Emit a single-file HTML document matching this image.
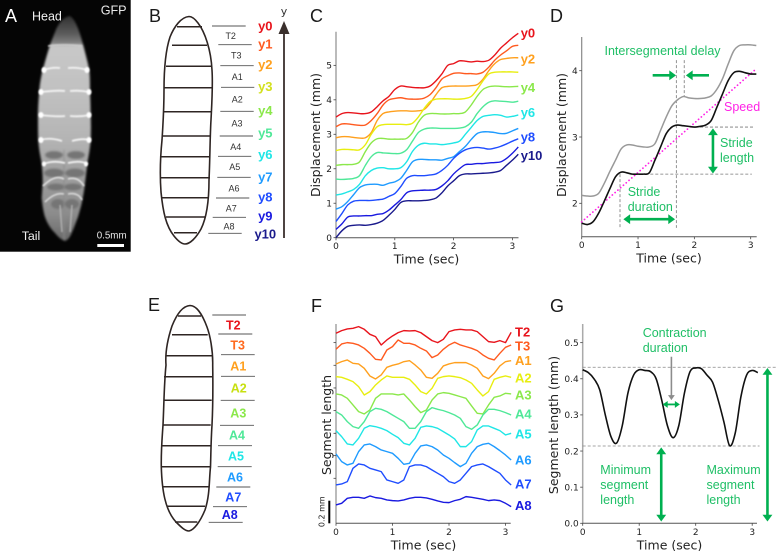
<!DOCTYPE html>
<html lang="en">
<head>
<meta charset="utf-8">
<title>Larval crawling kinematics figure</title>
<style>
html,body{margin:0;padding:0;background:#fff;}
body{width:777px;height:551px;overflow:hidden;}
svg{display:block;}
text{font-family:"Liberation Sans",sans-serif;}
.dj{font-family:"DejaVu Sans",sans-serif;}
.letter{font-size:18px;fill:#1a1a1a;}
.tick{font-family:"DejaVu Sans",sans-serif;font-size:9px;fill:#222;}
.axt{font-family:"DejaVu Sans",sans-serif;font-size:12.5px;fill:#222;}
.seg{font-size:9px;fill:#333;text-anchor:middle;}
.bold{font-weight:bold;}
.ann{font-size:12.5px;fill:#1fbf66;}
</style>
</head>
<body>
<svg id="fig" xmlns="http://www.w3.org/2000/svg" width="777" height="551" viewBox="0 0 777 551">
<defs>
<filter id="bl1" x="-20%" y="-20%" width="140%" height="140%"><feGaussianBlur stdDeviation="1.1"/></filter>
<filter id="bl2" x="-20%" y="-20%" width="140%" height="140%"><feGaussianBlur stdDeviation="0.7"/></filter>
<linearGradient id="bodyGrad" x1="0" y1="0" x2="0" y2="1">
<stop offset="0" stop-color="#303030"/><stop offset="0.08" stop-color="#5c5c5c"/><stop offset="0.12" stop-color="#808080"/><stop offset="0.135" stop-color="#c8c8c8"/><stop offset="0.35" stop-color="#c0c0c0"/><stop offset="0.55" stop-color="#b4b4b4"/><stop offset="0.7" stop-color="#a0a0a0"/><stop offset="0.88" stop-color="#8c8c8c"/><stop offset="1" stop-color="#686868"/>
</linearGradient>
</defs>

<!-- Panel A -->
<g>
<rect x="0" y="0" width="130.7" height="251.7" fill="#050505"/>
<g filter="url(#bl1)">
<path d="M70 16 C63 17 58 24 55 32 L50.7 43 C47 54 45 62 42.7 70 C40.5 79 39.5 86 39.3 92 C38.3 102 38 110 38 117 C38 125 38 133 38.3 140 C39 150 40.5 157 41.7 163 C42.5 172 42.7 178 42.7 183 L41.7 198 C42.5 206 43.5 212 45 217 C48 225 51 229 55 233 C59 238 62 240 65 241 C68 240 70 237 71.7 233 C74 228 76 222 78 217 C80 210 81.5 205 82.7 198 C84 192 84.5 187 85 183 C86 175 86.7 169 87.3 163 C89 155 90 148 90.7 140 C91 130 91 123 90.7 117 C90.6 107 90.3 100 90 92 C90 84 90 78 89.3 70 C87.5 61 85 52 82.7 43 C80 33 76 20 70 16Z" fill="url(#bodyGrad)"/>
<g fill="#757575">
<ellipse cx="54" cy="155" rx="9" ry="4"/><ellipse cx="76" cy="155" rx="9" ry="4"/>
<ellipse cx="54" cy="173" rx="10" ry="4.5"/><ellipse cx="75" cy="173" rx="10" ry="4.5"/>
<ellipse cx="56" cy="187" rx="9" ry="3.5"/><ellipse cx="73" cy="187" rx="9" ry="3.5"/>
<ellipse cx="58" cy="204" rx="7" ry="5"/><ellipse cx="72" cy="204" rx="7" ry="5"/>
</g>
<path d="M64 150 L64 240" stroke="#8a8a8a" stroke-width="1" fill="none"/>
</g>
<g filter="url(#bl2)" fill="none" stroke="#f4f4f4" stroke-width="1.4">
<path d="M48 46 Q64 44 82 46" stroke="#cfcfcf"/>
<path d="M44 70 Q52 67 60 68 M68 68 Q78 67 87 70" stroke-width="1.8"/>
<path d="M41 92 Q58 90 65 91 M70 91 Q80 90 89 92" stroke-width="1.8"/>
<path d="M40 115 Q58 117 65 116 M70 116 Q80 117 90 115" stroke-width="1.8"/>
<path d="M40 140 Q50 137 62 141 M72 141 Q82 138 90 140" stroke-width="1.8"/>
<path d="M43 164 Q54 160 65 163 M68 163 Q80 160 88 164" stroke-width="1.8"/>
<path d="M43 186 Q55 174 64 179 M68 179 Q78 176 84 186" stroke-width="1.6" stroke="#e0e0e0"/>
<path d="M45 202 Q55 192 64 194 M68 194 Q78 192 82 200" stroke-width="1.6" stroke="#d8d8d8"/>
<path d="M60 205 L62 232 M72 205 L70 232" stroke="#b4b4b4"/>
<g fill="#ffffff" stroke="none">
<ellipse cx="44" cy="70" rx="2.5" ry="3"/><ellipse cx="87" cy="70" rx="2.5" ry="3"/>
<ellipse cx="41" cy="92" rx="2.5" ry="3"/><ellipse cx="89" cy="92" rx="2.5" ry="3"/>
<ellipse cx="41" cy="115" rx="2.5" ry="3"/><ellipse cx="89" cy="115" rx="2.5" ry="3"/>
<ellipse cx="41" cy="140" rx="2.5" ry="3"/><ellipse cx="89" cy="140" rx="2.5" ry="3"/>
<ellipse cx="44" cy="164" rx="2" ry="2.5"/><ellipse cx="86" cy="164" rx="2" ry="2.5"/>
</g>
</g>
<text x="5" y="22" font-size="18" fill="#fff">A</text>
<text x="32" y="20.7" font-size="12.5" fill="#f2f2f2">Head</text>
<text x="100.7" y="14.3" font-size="12.6" fill="#e8e8e8">GFP</text>
<text x="21.7" y="240" font-size="12.4" fill="#f2f2f2">Tail</text>
<text x="96.7" y="238.7" font-size="9.8" fill="#e8e8e8">0.5mm</text>
<rect x="97.3" y="244" width="26.7" height="3" fill="#fff"/>
</g>

<!-- Panel B -->
<g>
<text class="letter" x="149" y="22">B</text>
<path d="M189 16.5 C181 17 174 27 170 37 C165 52 164 75 164 90 C164 105 163 125 162 140 C160 160 160 178 161 192 C163 212 166 226 174 236 C178 241 182 244 185 244 C190 244 196 238 201 229 C207 217 209 200 209 180 C210 160 210 135 211 120 C212 100 213 85 212 70 C211 50 205 32 198 23 C195 19 192 16.5 189 16.5Z" fill="none" stroke="#2e2523" stroke-width="1.6"/>
<g stroke="#2e2523" stroke-width="1.5">
<line x1="177" y1="26.7" x2="202" y2="26.7"/><line x1="172" y1="45.3" x2="207" y2="45.3"/><line x1="166" y1="66.3" x2="211" y2="66.3"/><line x1="164" y1="87.7" x2="212" y2="87.7"/><line x1="164" y1="111.7" x2="211" y2="111.7"/><line x1="162" y1="136" x2="210" y2="136"/><line x1="161" y1="156.7" x2="210" y2="156.7"/><line x1="161" y1="177.7" x2="210" y2="177.7"/><line x1="162" y1="197.7" x2="209" y2="197.7"/><line x1="166" y1="217" x2="206" y2="217"/><line x1="174" y1="232.7" x2="197" y2="232.7"/>
</g>
<g stroke="#555" stroke-width="0.9">
<line x1="212" y1="26" x2="245.7" y2="26"/><line x1="218.3" y1="44.7" x2="251.7" y2="44.7"/><line x1="220.3" y1="65.7" x2="253.7" y2="65.7"/><line x1="221" y1="87.3" x2="254.3" y2="87.3"/><line x1="220.3" y1="111.3" x2="253.7" y2="111.3"/><line x1="219.7" y1="136" x2="253" y2="136"/><line x1="218" y1="156.3" x2="251.3" y2="156.3"/><line x1="217.3" y1="177.3" x2="250.7" y2="177.3"/><line x1="216" y1="198" x2="249.3" y2="198"/><line x1="212.7" y1="217.3" x2="246" y2="217.3"/><line x1="208.3" y1="233.3" x2="241.7" y2="233.3"/>
</g>
<text class="seg" x="230.7" y="39">T2</text>
<text class="seg" x="236.3" y="58.7">T3</text>
<text class="seg" x="237.3" y="80">A1</text>
<text class="seg" x="237.3" y="102.3">A2</text>
<text class="seg" x="237" y="126.3">A3</text>
<text class="seg" x="235.7" y="150">A4</text>
<text class="seg" x="234.7" y="170">A5</text>
<text class="seg" x="234" y="191.3">A6</text>
<text class="seg" x="231.3" y="211.3">A7</text>
<text class="seg" x="229" y="229.7">A8</text>
<g font-size="13" text-anchor="middle" font-weight="bold">
<text x="265.3" y="30.5" fill="#e8141c">y0</text>
<text x="265.3" y="48.5" fill="#ff5a1f">y1</text>
<text x="265.3" y="69" fill="#ffa01e">y2</text>
<text x="265.3" y="91" fill="#d3e01e">y3</text>
<text x="265.3" y="115" fill="#8be84b">y4</text>
<text x="265.3" y="137.5" fill="#4fe898">y5</text>
<text x="265.3" y="159" fill="#1fe6e6">y6</text>
<text x="265.3" y="181.5" fill="#1f9bff">y7</text>
<text x="265.3" y="201.5" fill="#1f4dff">y8</text>
<text x="265.3" y="220.5" fill="#1a1ae0">y9</text>
<text x="265.3" y="238.5" fill="#1a1a8c">y10</text>
</g>
<line x1="284" y1="238" x2="284" y2="30" stroke="#3a2f2c" stroke-width="1.8"/>
<polygon points="284,21 278.5,34 289.5,34" fill="#3a2f2c"/>
<text x="284" y="15" font-size="11" text-anchor="middle" fill="#333" class="dj">y</text>
</g>

<!-- Panel E -->
<g>
<text class="letter" x="148" y="311">E</text>
<path d="M190 305.5 C182 306 176 316 172 326 C168 338 165 352 166 365 C164 385 164 405 163 425 C162 440 161 450 161.3 467 C162 490 165 510 176 522 C181 527 185 531 189 531 C194 530 200 522 205 510 C210 495 209 480 210.5 467 C211 450 211 440 212 425 C213 405 213 385 212.7 365 C213 350 210 335 207 327 C203 316 197 305.5 190 305.5Z" fill="none" stroke="#2e2523" stroke-width="1.6"/>
<g stroke="#2e2523" stroke-width="1.5">
<line x1="178" y1="316" x2="201" y2="316"/><line x1="172" y1="334.7" x2="207.7" y2="334.7"/><line x1="166" y1="355.7" x2="212" y2="355.7"/><line x1="164" y1="376.7" x2="212.7" y2="376.7"/><line x1="164" y1="400.3" x2="211.7" y2="400.3"/><line x1="163.3" y1="425" x2="210.7" y2="425"/><line x1="161.7" y1="445.7" x2="210.7" y2="445.7"/><line x1="161.3" y1="466.7" x2="210.7" y2="466.7"/><line x1="163.3" y1="486.7" x2="209.3" y2="486.7"/><line x1="167" y1="506.3" x2="205" y2="506.3"/><line x1="175" y1="522" x2="197.3" y2="522"/>
</g>
<g stroke="#555" stroke-width="0.9">
<line x1="212.3" y1="315" x2="246" y2="315"/><line x1="218.3" y1="334" x2="252.3" y2="334"/><line x1="221" y1="354.7" x2="254.7" y2="354.7"/><line x1="221" y1="376.3" x2="255" y2="376.3"/><line x1="220.7" y1="400.3" x2="254.7" y2="400.3"/><line x1="220" y1="425.3" x2="254" y2="425.3"/><line x1="218" y1="445.7" x2="252" y2="445.7"/><line x1="217.7" y1="466.7" x2="251.7" y2="466.7"/><line x1="216.3" y1="487" x2="250.3" y2="487"/><line x1="213" y1="506.7" x2="247" y2="506.7"/><line x1="208.7" y1="522.3" x2="242.7" y2="522.3"/>
</g>
<g font-size="12.5" font-weight="bold" text-anchor="middle">
<text x="233.3" y="329.3" fill="#e8141c">T2</text>
<text x="237.7" y="349.3" fill="#ff6a1f">T3</text>
<text x="238.3" y="370.3" fill="#ffa01e">A1</text>
<text x="238.7" y="392.7" fill="#c8e010">A2</text>
<text x="238.3" y="417.3" fill="#8be84b">A3</text>
<text x="237" y="439.7" fill="#4fe898">A4</text>
<text x="236" y="460.3" fill="#1fe6e6">A5</text>
<text x="235" y="481.3" fill="#1f9bff">A6</text>
<text x="233.3" y="501.7" fill="#1f4dff">A7</text>
<text x="229.7" y="519" fill="#1a1ae0">A8</text>
</g>
</g>

<text class="letter" x="310" y="22">C</text>
<text class="letter" x="550" y="22">D</text>
<text class="letter" x="311" y="312">F</text>
<text class="letter" x="550" y="312">G</text>

<g id="panelC"></g>
<g id="panelD"></g>
<g id="panelF"></g>
<g id="panelG"></g>
</svg>

<script>
// ---- shared time base: one sample every 0.1 s ----
const sampleStep = 0.1;
const xTickLabels = [0, 1, 2, 3];

// ---- Panel C ----
const cSeriesNames = ['y0','y1','y2','y3','y4','y5','y6','y7','y8','y9','y10'];
const cColors = ['#e8141c','#ff5a1f','#ffa01e','#e8ee10','#8be84b','#4fe898','#1fe6e6','#1f9bff','#1f4dff','#1a1ae0','#1a1a8c'];
const y0Values = [3.5,3.6,3.63,3.62,3.6,3.6,3.65,3.8,3.97,4.1,4.3,4.4,4.38,4.36,4.35,4.35,4.4,4.55,4.75,5.0,5.05,5.13,5.12,5.1,5.12,5.11,5.15,5.3,5.5,5.65,5.8,5.93];
const y1Values = [3.22,3.3,3.3,3.28,3.26,3.27,3.4,3.6,3.85,4.0,4.04,4.06,4.03,4.02,4.02,4.05,4.15,4.35,4.6,4.7,4.77,4.78,4.76,4.76,4.75,4.8,4.95,5.15,5.3,5.42,5.55,5.58];
const y2Values = [2.9,2.93,2.93,2.91,2.89,2.9,3.05,3.4,3.6,3.65,3.67,3.68,3.68,3.67,3.68,3.72,3.9,4.15,4.35,4.39,4.4,4.4,4.4,4.41,4.44,4.6,4.85,5.05,5.17,5.2,5.22,5.22];
const y3Values = [2.53,2.56,2.56,2.55,2.55,2.7,3.0,3.22,3.28,3.29,3.29,3.29,3.28,3.32,3.5,3.75,3.95,4.02,4.03,4.03,4.02,4.02,4.04,4.1,4.3,4.55,4.75,4.8,4.81,4.81,4.81,4.8];
const y4Values = [2.1,2.12,2.12,2.13,2.2,2.5,2.75,2.87,2.88,2.86,2.86,2.86,2.88,3.05,3.35,3.55,3.6,3.6,3.59,3.59,3.6,3.6,3.65,3.85,4.1,4.3,4.38,4.4,4.39,4.38,4.38,4.39];
const y5Values = [1.7,1.69,1.7,1.72,1.8,2.1,2.35,2.47,2.46,2.45,2.44,2.45,2.55,2.8,3.05,3.15,3.18,3.18,3.17,3.17,3.17,3.18,3.22,3.35,3.6,3.8,3.93,3.97,3.96,3.95,3.93,3.96];
const y6Values = [1.24,1.27,1.33,1.4,1.55,1.8,1.95,2.02,2.03,2.0,2.0,2.03,2.2,2.5,2.68,2.74,2.72,2.72,2.7,2.72,2.75,2.8,3.0,3.2,3.4,3.52,3.55,3.57,3.55,3.5,3.52,3.56];
const y7Values = [0.83,0.9,1.05,1.25,1.45,1.53,1.55,1.55,1.52,1.58,1.62,1.72,1.95,2.2,2.27,2.27,2.26,2.26,2.25,2.3,2.35,2.5,2.65,2.85,3.02,3.07,3.07,3.05,3.02,3.03,3.1,3.17];
const y8Values = [0.47,0.7,0.95,1.06,1.08,1.08,1.08,1.1,1.12,1.2,1.28,1.48,1.72,1.8,1.8,1.8,1.82,1.85,1.95,2.1,2.3,2.45,2.55,2.6,2.62,2.6,2.57,2.6,2.65,2.72,2.8,2.87];
const y9Values = [0.24,0.4,0.6,0.63,0.63,0.64,0.64,0.68,0.7,0.8,0.95,1.1,1.3,1.36,1.37,1.38,1.38,1.4,1.5,1.65,1.85,2.0,2.12,2.13,2.15,2.15,2.17,2.18,2.2,2.3,2.45,2.63];
const y10Values = [0,0.2,0.33,0.36,0.37,0.36,0.38,0.42,0.5,0.65,0.82,1.02,1.07,1.07,1.07,1.08,1.1,1.15,1.3,1.5,1.65,1.8,1.85,1.85,1.86,1.87,1.88,1.9,1.95,2.1,2.25,2.42];
const cYTicks = [0, 1, 2, 3, 4, 5];
const cEndLabels = ['y0','y2','y4','y6','y8','y10'];

// ---- Panel D ----
const dGreyValues = [2.12,2.11,2.11,2.15,2.3,2.48,2.65,2.82,2.88,2.88,2.86,2.85,2.85,2.9,3.1,3.3,3.47,3.56,3.61,3.59,3.58,3.58,3.59,3.62,3.72,3.88,4.1,4.3,4.38,4.39,4.39,4.38];
const dBlackValues = [1.7,1.68,1.72,1.85,2.03,2.22,2.4,2.47,2.46,2.44,2.44,2.44,2.46,2.65,2.85,3.05,3.15,3.18,3.17,3.16,3.15,3.16,3.18,3.25,3.45,3.65,3.85,3.97,3.99,3.97,3.95,3.95];
const dSpeedTimes = [0, 3.1];
const dSpeedValues = [1.72, 4.03];
const dYTicks = [2, 3, 4];

// ---- Panel F (stacked traces in arbitrary offset length units) ----
const fSeriesNames = ['T2','T3','A1','A2','A3','A4','A5','A6','A7','A8'];
const fColors = ['#e8141c','#ff5a1f','#ffa01e','#e8ee10','#8be84b','#4fe898','#1fe6e6','#1f9bff','#1f4dff','#1a1ae0'];
const t2Trace = [570,578,583,585,590,582,567,560,535,550,562,572,578,577,578,572,560,548,542,552,575,580,582,580,580,575,560,545,543,548,542,573];
const t3Trace = [522,538,542,540,535,525,510,492,490,520,530,550,540,540,535,525,517,497,505,522,535,543,535,530,525,518,505,495,490,510,528,535];
const a1Trace = [478,485,490,480,478,465,442,433,445,468,474,478,485,488,475,460,438,435,450,472,478,482,482,482,475,465,442,434,450,472,485,488];
const a2Trace = [440,438,432,425,410,385,395,415,430,442,438,438,438,432,415,395,388,405,435,440,442,440,437,430,420,400,382,395,432,438,442,438];
const a3Trace = [388,385,375,355,335,328,340,375,388,388,388,385,388,370,350,332,340,370,388,392,390,385,380,375,352,330,328,355,378,382,390,388];
const a4Trace = [335,325,305,290,285,305,335,345,342,335,325,315,305,285,285,305,335,347,342,338,332,325,315,290,282,295,325,342,342,338,332,325];
const a5Trace = [278,260,238,235,255,285,293,290,285,278,267,257,240,235,255,288,292,290,285,275,265,253,230,230,245,280,292,292,285,278,265,270];
const a6Trace = [208,185,175,180,215,235,238,230,220,215,210,195,177,180,210,232,235,230,220,205,195,182,170,180,210,230,237,240,230,218,205,190];
const a7Trace = [115,118,125,165,178,175,165,160,155,130,125,120,130,170,175,175,170,160,150,140,125,120,130,150,170,175,178,170,160,150,130,115];
const a8Trace = [55,60,75,78,78,75,82,77,75,70,68,67,70,75,78,78,76,72,67,63,62,68,72,80,78,75,72,68,70,68,60,50];
const fYTickValues = [542, 474, 406, 338, 270, 203, 135];

// ---- Panel G ----
const gLengthValues = [0.425,0.417,0.40,0.37,0.30,0.24,0.222,0.27,0.36,0.41,0.425,0.423,0.42,0.40,0.34,0.27,0.237,0.27,0.36,0.42,0.43,0.428,0.41,0.39,0.34,0.28,0.215,0.25,0.35,0.41,0.423,0.417];
const gYTicks = [0, 0.1, 0.2, 0.3, 0.4, 0.5];
const gMaxLength = 0.432;
const gMinLength = 0.214;

const NS = 'http://www.w3.org/2000/svg';
function mk(parent, tag, attrs) {
  const el = document.createElementNS(NS, tag);
  for (const k in attrs) el.setAttribute(k, attrs[k]);
  parent.appendChild(el);
  return el;
}
function line(parent, name, x1, y1, x2, y2, stroke, width, dash) {
  const el = mk(parent, 'line', {x1: x1, y1: y1, x2: x2, y2: y2, stroke: stroke, 'stroke-width': width});
  if (dash) el.setAttribute('stroke-dasharray', dash);
  
  
  return el;
}
function label(parent, name, x, y, str, cls, extra) {
  const el = mk(parent, 'text', Object.assign({x: x, y: y, class: cls || ''}, extra || {}));
  el.textContent = str;
  
  
  return el;
}
function smoothPath(values, xf, yf) {
  const p = values.map((v, i) => [xf(i * sampleStep), yf(v)]);
  let d = 'M' + p[0][0].toFixed(2) + ' ' + p[0][1].toFixed(2);
  for (let i = 0; i < p.length - 1; i++) {
    const a = p[Math.max(0, i - 1)], b = p[i], c = p[i + 1], e = p[Math.min(p.length - 1, i + 2)];
    d += 'C' + (b[0] + (c[0] - a[0]) / 6).toFixed(2) + ' ' + (b[1] + (c[1] - a[1]) / 6).toFixed(2) + ' ' +
         (c[0] - (e[0] - b[0]) / 6).toFixed(2) + ' ' + (c[1] - (e[1] - b[1]) / 6).toFixed(2) + ' ' +
         c[0].toFixed(2) + ' ' + c[1].toFixed(2);
  }
  return d;
}
function linePath(values, xf, yf) {
  return values.map((v, i) => (i ? 'L' : 'M') + xf(i * sampleStep).toFixed(2) + ' ' + yf(v).toFixed(2)).join('');
}
function trace(parent, name, d, color, width, dash) {
  const el = mk(parent, 'path', {d: d, fill: 'none', stroke: color, 'stroke-width': width, 'stroke-linejoin': 'round'});
  if (dash) {
    el.setAttribute('stroke-dasharray', dash);
    el.setAttribute('stroke-linecap', 'round');
  }
  
  
  return el;
}
function arrow(parent, name, x1, y1, x2, y2, color, both, w) {
  const g = mk(parent, 'g', {});
  
  
  const dx = x2 - x1, dy = y2 - y1, len = Math.hypot(dx, dy), ux = dx / len, uy = dy / len;
  const hl = Math.max(w * 2.6, 5), hw = Math.max(w * 1.9, 3.4);
  const sx = both ? x1 + ux * hl * 0.7 : x1, sy = both ? y1 + uy * hl * 0.7 : y1;
  mk(g, 'line', {x1: sx, y1: sy, x2: x2 - ux * hl * 0.7, y2: y2 - uy * hl * 0.7, stroke: color, 'stroke-width': w});
  const head = (tx, ty, vx, vy) => {
    const pts = [[tx, ty], [tx - vx * hl - vy * hw, ty - vy * hl + vx * hw], [tx - vx * hl + vy * hw, ty - vy * hl - vx * hw]];
    mk(g, 'polygon', {points: pts.map(q => q[0].toFixed(2) + ',' + q[1].toFixed(2)).join(' '), fill: color});
  };
  head(x2, y2, ux, uy);
  if (both) head(x1, y1, -ux, -uy);
}
function axes(parent, o) {
  line(parent, 'y-axis-line', o.x0, o.top, o.x0, o.bottom, o.spine, o.spineW || 1);
  line(parent, 'x-axis-line', o.x0, o.bottom, o.right, o.bottom, '#555', 1);
  xTickLabels.forEach(t => {
    const x = o.xf(t);
    line(parent, 'x-tick-' + t, x, o.bottom, x, o.bottom + 2.5, '#444', 0.8);
    label(parent, 'x-tick-label-' + t, x, o.bottom + 11.5, String(t), 'tick', {'text-anchor': 'middle'});
  });
  (o.yTicks || []).forEach(v => {
    const y = o.yf(v);
    line(parent, 'y-tick-' + v, o.x0 - 2.5, y, o.x0, y, '#444', 0.8);
    if (o.labelY) label(parent, 'y-tick-label-' + v, o.x0 - 4, y + 3.3, o.fmt ? o.fmt(v) : String(v), 'tick', {'text-anchor': 'end'});
  });
  label(parent, 'x-axis-title', o.xTitleX, o.bottom + 26, 'Time (sec)', 'axt', {'text-anchor': 'middle'});
  label(parent, 'y-axis-title', 0, 0, o.yTitle, 'axt', {'text-anchor': 'middle', transform: 'translate(' + o.yTitleX + ' ' + o.yTitleY + ') rotate(-90)'});
}

// ---- Panel C draw ----
(function () {
  const g = document.getElementById('panelC');
  const xf = t => 336 + 58.8 * t;
  const yf = v => 237.7 - 34.47 * v;
  axes(g, {x0: 336, top: 31.7, bottom: 237.7, right: 518.5, spine: '#777', xf: xf, yf: yf, yTicks: cYTicks, labelY: true, xTitleX: 426.5, yTitle: 'Displacement (mm)', yTitleX: 320, yTitleY: 135});
  const cAll = [y0Values, y1Values, y2Values, y3Values, y4Values, y5Values, y6Values, y7Values, y8Values, y9Values, y10Values];
  cAll.forEach((vals, i) => {
    trace(g, 'series-' + cSeriesNames[i], smoothPath(vals, xf, yf), cColors[i], 1.4);
  });
  const cLabelNudge = {y0: 4, y2: 5.6, y4: 5.6, y6: 2, y8: 2.5, y10: 5.7};
  cEndLabels.forEach(name => {
    const i = cSeriesNames.indexOf(name);
    label(g, 'end-label-' + name, 520.7, yf(cAll[i][31]) + cLabelNudge[name], name, 'bold', {'font-size': 13, 'font-weight': 'bold', fill: cColors[i]});
  });
})();

// ---- Panel D draw ----
(function () {
  const g = document.getElementById('panelD');
  const xf = t => 581.7 + 56.33 * t;
  const yf = v => 203.3 - 66.3 * (v - 2);
  axes(g, {x0: 581.7, top: 37, bottom: 236.7, right: 756.7, spine: '#888', spineW: 1.2, xf: xf, yf: yf, yTicks: dYTicks, labelY: true, xTitleX: 669, yTitle: 'Displacement (mm)', yTitleX: 566, yTitleY: 135});
  const guide = '#777';
  line(g, 'stride-start-guide', xf(0.68), yf(2.44), xf(0.68), yf(1.63), guide, 0.8, '3 2');
  line(g, 'stride-end-guide', xf(1.68), yf(4.16), xf(1.68), yf(1.63), guide, 0.8, '3 2');
  line(g, 'delay-guide', xf(1.82), yf(4.16), xf(1.82), yf(3.61), guide, 0.8, '3 2');
  line(g, 'stride-low-guide', xf(1.04), yf(2.44), xf(3.02), yf(2.44), guide, 0.8, '3 2');
  line(g, 'stride-high-guide', xf(2.1), yf(3.15), xf(3.05), yf(3.15), guide, 0.8, '3 2');
  const speedPath = 'M' + xf(dSpeedTimes[0]) + ' ' + yf(dSpeedValues[0]) + 'L' + xf(dSpeedTimes[1]) + ' ' + yf(dSpeedValues[1]);
  trace(g, 'speed-line', speedPath, '#ff22e6', 1.7, '0.1 3.6');
  trace(g, 'head-segment-trace', smoothPath(dGreyValues, xf, yf), '#999', 1.5);
  trace(g, 'tail-segment-trace', smoothPath(dBlackValues, xf, yf), '#111', 1.6);
  const green = '#00b050';
  arrow(g, 'delay-arrow-left', xf(1.26), yf(3.93), xf(1.675), yf(3.93), green, false, 2.6);
  arrow(g, 'delay-arrow-right', xf(2.26), yf(3.93), xf(1.85), yf(3.93), green, false, 2.6);
  arrow(g, 'stride-length-arrow', xf(2.33), yf(3.13), xf(2.33), yf(2.45), green, true, 2.6);
  arrow(g, 'stride-duration-arrow', xf(0.74), yf(1.76), xf(1.657), yf(1.76), green, true, 2.6);
  label(g, 'intersegmental-delay-label', 604.5, 55, 'Intersegmental delay', 'ann');
  label(g, 'speed-label', 724, 111, 'Speed', 'ann', {style: 'fill:#ff22e6'});
  label(g, 'stride-length-label-1', 720, 147, 'Stride', 'ann');
  label(g, 'stride-length-label-2', 720, 162, 'length', 'ann');
  label(g, 'stride-duration-label-1', 627.7, 196, 'Stride', 'ann');
  label(g, 'stride-duration-label-2', 627.7, 211, 'duration', 'ann');
})();

// ---- Panel F draw ----
(function () {
  const g = document.getElementById('panelF');
  const xf = t => 336 + 56.5 * t;
  const yf = v => 523.3 - v / 3;
  axes(g, {x0: 336, top: 324, bottom: 523.3, right: 510.7, spine: '#777', xf: xf, yf: yf, yTicks: fYTickValues, labelY: false, xTitleX: 423.5, yTitle: 'Segment length', yTitleX: 331, yTitleY: 425});
  const fAll = [t2Trace, t3Trace, a1Trace, a2Trace, a3Trace, a4Trace, a5Trace, a6Trace, a7Trace, a8Trace];
  const fLabelNudge = [-0.3, 1, 0, 0.7, 1, -1, 0.7, 0, -1, -1];
  fAll.forEach((vals, i) => {
    trace(g, 'trace-' + fSeriesNames[i], linePath(vals, xf, yf), fColors[i], 1.4);
    label(g, 'trace-label-' + fSeriesNames[i], 515, yf(vals[31]) + 4.5 + fLabelNudge[i], fSeriesNames[i], 'bold', {'font-size': 13, 'font-weight': 'bold', fill: fColors[i]});
  });
  line(g, 'length-scale-bar', 329.3, 500.7, 329.3, 523.3, '#000', 2);
  label(g, 'length-scale-label', 0, 0, '0.2 mm', 'dj', {'font-size': 8, fill: '#222', 'text-anchor': 'middle', transform: 'translate(324.5 511.7) rotate(-90)'});
})();

// ---- Panel G draw ----
(function () {
  const g = document.getElementById('panelG');
  const xf = t => 582.7 + 56.5 * t;
  const yf = v => 523.3 - 361.3 * v;
  axes(g, {x0: 582.7, top: 324, bottom: 523.3, right: 757, spine: '#aaa', spineW: 1.5, xf: xf, yf: yf, yTicks: gYTicks, labelY: true, fmt: v => v.toFixed(1), xTitleX: 669.5, yTitle: 'Segment length (mm)', yTitleX: 558, yTitleY: 425});
  line(g, 'max-length-guide', xf(0), yf(gMaxLength), xf(3.43), yf(gMaxLength), '#888', 0.8, '3 2');
  line(g, 'min-length-guide', xf(0), yf(gMinLength), xf(3.13), yf(gMinLength), '#888', 0.8, '3 2');
  trace(g, 'segment-length-trace', smoothPath(gLengthValues, xf, yf), '#111', 1.6);
  const green = '#00b050';
  arrow(g, 'contraction-pointer-arrow', xf(1.57), yf(0.461), xf(1.57), yf(0.341), '#8c8c8c', false, 1.6);
  arrow(g, 'contraction-duration-arrow', xf(1.416), yf(0.329), xf(1.72), yf(0.329), green, true, 1.8);
  arrow(g, 'minimum-length-arrow', xf(1.39), yf(0.005), xf(1.39), yf(0.21), green, true, 2.6);
  arrow(g, 'maximum-length-arrow', xf(3.27), yf(0.005), xf(3.27), yf(0.43), green, true, 2.6);
  label(g, 'contraction-label-1', 642.7, 337, 'Contraction', 'ann');
  label(g, 'contraction-label-2', 642.7, 352, 'duration', 'ann');
  label(g, 'minimum-label-1', 600.3, 474, 'Minimum', 'ann');
  label(g, 'minimum-label-2', 600.3, 489, 'segment', 'ann');
  label(g, 'minimum-label-3', 600.3, 504, 'length', 'ann');
  label(g, 'maximum-label-1', 706.5, 474, 'Maximum', 'ann');
  label(g, 'maximum-label-2', 706.5, 489, 'segment', 'ann');
  label(g, 'maximum-label-3', 706.5, 504, 'length', 'ann');
})();
</script>
</body>
</html>
